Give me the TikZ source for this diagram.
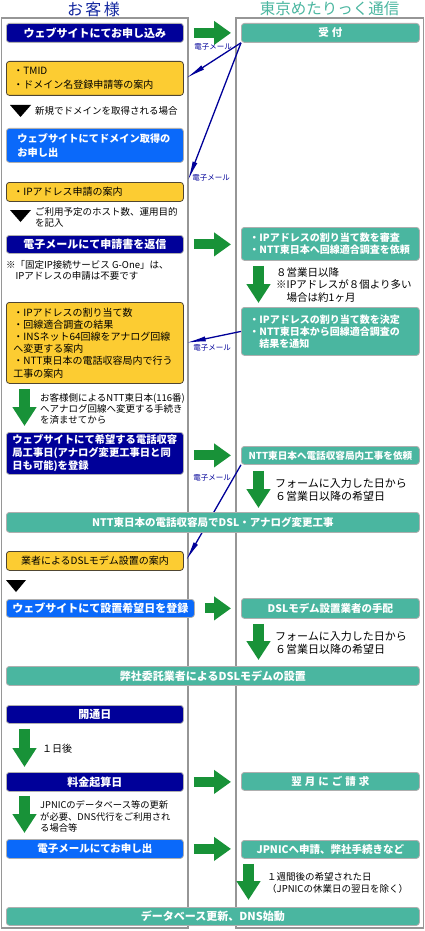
\documentclass[tikz,border=0pt]{standalone}
\usepackage{fontspec}
\setmainfont{Noto Sans CJK JP}
\usetikzlibrary{arrows.meta,calc}
\definecolor{cnavy}{RGB}{0,0,153}
\definecolor{cblue}{RGB}{10,105,250}
\definecolor{cyellow}{RGB}{252,204,50}
\definecolor{cteal}{RGB}{74,182,160}
\definecolor{cgreen}{RGB}{24,146,56}
\definecolor{ctitle}{RGB}{20,40,160}
\definecolor{cpanel}{RGB}{150,150,150}
\definecolor{cbord}{RGB}{175,175,175}
\definecolor{cybord}{RGB}{80,70,50}
\newcommand{\fsz}[2]{\fontsize{#1}{#2}\selectfont}
\begin{document}
\begin{tikzpicture}[x=1pt,y=-1pt,
 box/.style={rounded corners=3pt,draw=cbord,line width=0.8pt,anchor=north west,inner xsep=6pt,inner ysep=1pt,align=center},
 lw/.style={minimum width=177pt},
 rw/.style={minimum width=178pt},
 fw/.style={minimum width=413pt},
 navybox/.style={box,fill=cnavy,text=white},
 bluebox/.style={box,fill=cblue,text=white},
 yelbox/.style={box,fill=cyellow,draw=cybord,text=black},
 tealbox/.style={box,fill=cteal,text=white},
 note/.style={inner sep=0pt,anchor=north west,align=left,text=black},
 hg/.style={draw=cgreen,line width=10pt,-{Triangle[length=17pt,width=23pt]}},
 vg/.style={draw=cgreen,line width=11pt,-{Triangle[length=19pt,width=23pt]}},
 mail/.style={draw=cnavy,line width=1.3pt,-{Latex[length=20pt,width=5pt]}},
 maillbl/.style={text=cnavy,font=\fsz{7.5}{8},inner sep=0pt},
]
\useasboundingbox (0,0) rectangle (424,931);
\fill[white] (0,0) rectangle (424,931);

% titles
\node[text=ctitle,font=\fsz{16}{16},inner sep=0pt] (T1) at (93.5,9) {お\hspace{2.5pt}客\hspace{2.5pt}様};
\node[text=cteal,font=\fsz{15.5}{16},inner sep=0pt] (T2) at (329.5,9) {東京めたりっく通信};

% panels
\draw[cpanel,line width=1.5pt] (1.5,18) rectangle (188,928);
\draw[cpanel,line width=1.5pt] (236,18) rectangle (423.5,928);

% left column
\node[navybox,lw,minimum height=19pt,font=\fsz{11}{13}\bfseries] (L1) at (6,23) {ウェブサイトにてお申し込み};
\node[yelbox,lw,minimum height=34pt,inner xsep=7pt,text width=163pt,align=left,font=\fsz{10}{14}] (L2) at (6,61) {・TMID\\・ドメイン名登録申請等の案内};
\fill (10,105) -- (31,105) -- (20.5,117) -- cycle;
\node[note,anchor=west,font=\fsz{9.5}{11}] (A1) at (35,111) {新規でドメインを取得される場合};
\node[bluebox,lw,minimum height=34pt,inner xsep=11pt,text width=155pt,align=left,font=\fsz{10.2}{14}\bfseries] (L3) at (6,128) {ウェブサイトにてドメイン取得の\\お申し出};
\node[yelbox,lw,minimum height=19pt,inner xsep=7pt,text width=163pt,align=left,font=\fsz{10}{12}] (L4) at (6,182) {・IPアドレス申請の案内};
\fill (10,210) -- (31,210) -- (20.5,222) -- cycle;
\node[note,font=\fsz{9.5}{11}] (A2) at (35,207.5) {ご利用予定のホスト数、運用目的\\を記入};
\node[navybox,lw,minimum height=18pt,font=\fsz{11}{13}\bfseries] (L5) at (6,235) {電子メールにて申請書を返信};
\node[note,font=\fsz{9.5}{11}] (A3) at (6,260.7) {※「固定IP接続サービス G-One」は、\\\hspace*{9.5pt}IPアドレスの申請は不要です};
\node[yelbox,lw,minimum height=81pt,inner xsep=7pt,text width=163pt,align=left,font=\fsz{10}{12.2}] (L6) at (6,302) {・IPアドレスの割り当て数\\・回線適合調査の結果\\・INSネット64回線をアナログ回線\\へ変更する案内\\・NTT東日本の電話収容局内で行う\\工事の案内};
\node[note,font=\fsz{9.5}{11}] (A4) at (40,393.7) {お客様側によるNTT東日本(116番)\\へアナログ回線へ変更する手続き\\を済ませてから};
\node[navybox,lw,minimum height=42pt,inner xsep=6pt,text width=165pt,align=left,font=\fsz{10.3}{13}\bfseries] (L7) at (6,432) {ウェブサイトにて希望する電話収容\\局工事日(アナログ変更工事日と同\\日も可能)を登録};
\node[yelbox,lw,minimum height=19pt,font=\fsz{10}{12}] (L9) at (6,551) {業者によるDSLモデム設置の案内};
\fill (6,580) -- (26,580) -- (16,592) -- cycle;
\node[bluebox,lw,minimum height=18pt,font=\fsz{11}{13}\bfseries] (L10) at (6,599) {ウェブサイトにて設置希望日を登録};
\node[tealbox,fw,minimum height=19pt,font=\fsz{11}{13}\bfseries] (L11) at (6,666) {弊社委託業者によるDSLモデムの設置};
\node[navybox,lw,minimum height=18pt,font=\fsz{11}{13}\bfseries] (L12) at (6,705) {開通日};
\node[note,anchor=west,font=\fsz{10}{12}] (A5) at (42,749) {１日後};
\node[navybox,lw,minimum height=19pt,font=\fsz{11}{13}\bfseries] (L13) at (6,772) {料金起算日};
\node[note,font=\fsz{9.3}{11.5}] (A6) at (40,800.7) {JPNICのデータベース等の更新\\が必要、DNS代行をご利用され\\る場合等};
\node[bluebox,lw,minimum height=19pt,font=\fsz{10.5}{12}\bfseries] (L14) at (6,839) {電子メールにてお申し出};
\node[tealbox,fw,minimum height=18pt,font=\fsz{11}{13}\bfseries] (L15) at (6,907) {データベース更新、DNS始動};

% right column
\node[tealbox,rw,minimum height=19pt,font=\fsz{10.5}{12}\bfseries] (R1) at (241,23) {受\hspace{3pt}付};
\node[tealbox,rw,minimum height=33pt,inner xsep=8pt,text width=162pt,align=left,font=\fsz{10}{12}\bfseries] (R2) at (241,227) {・IPアドレスの割り当て数を審査\\・NTT東日本へ回線適合調査を依頼};
\node[note,font=\fsz{10.5}{12.5}] (B1) at (276,267.3) {８営業日以降\\※IPアドレスが８個より多い\\\hspace*{10.5pt}場合は約1ヶ月};
\node[tealbox,rw,minimum height=48pt,inner xsep=8pt,text width=162pt,align=left,font=\fsz{10}{12}\bfseries] (R3) at (241,307) {・IPアドレスの割り当て数を決定\\・NTT東日本から回線適合調査の\\\hspace*{10pt}結果を通知};
\node[tealbox,rw,minimum height=18pt,inner xsep=2pt,font=\fsz{9.6}{12}\bfseries] (R4) at (241,446) {NTT東日本へ電話収容局内工事を依頼};
\node[note,font=\fsz{11}{13}] (B2) at (275,478.5) {フォームに入力した日から\\６営業日以降の希望日};
\node[tealbox,rw,minimum height=20pt,font=\fsz{10.5}{12}\bfseries] (R5) at (241,598) {DSLモデム設置業者の手配};
\node[note,font=\fsz{11}{13}] (B3) at (275,631) {フォームに入力した日から\\６営業日以降の希望日};
\node[tealbox,rw,minimum height=18pt,font=\fsz{10.5}{12}\bfseries] (R6) at (241,772) {翌\hspace{3pt}月\hspace{3pt}に\hspace{3pt}ご\hspace{3pt}請\hspace{3pt}求};
\node[tealbox,rw,minimum height=18pt,font=\fsz{10.5}{12}\bfseries] (R7) at (241,840) {JPNICへ申請、弊社手続きなど};
\node[note,font=\fsz{9.5}{12}] (B4) at (267,872.7) {１週間後の希望された日\\（JPNICの休業日の翌日を除く）};

% e-mail connectors (behind the full-width bar)
\draw[mail] (R1.south west) -- ($(L2.east)+(2,0)$);
\draw[mail] (R1.south west) -- ($(L4.north east)+(4,-1)$);
\draw[mail] (R3.west) -- ($(L6.east)+(2,0)$);
\draw[mail] (R4.south west) -- ($(L9.east)+(2,0)$);
\node[maillbl] (M1) at (213,47) {電子メール};
\node[maillbl] (M2) at (211,178) {電子メール};
\node[maillbl] (M3) at (212,348) {電子メール};
\node[maillbl] (M4) at (212,478) {電子メール};

\node[tealbox,fw,minimum height=20pt,font=\fsz{10.5}{12}\bfseries] (L8) at (6,512) {NTT東日本の電話収容局でDSL・アナログ変更工事};

% green horizontal arrows
\draw[hg] ($(L1.east)+(10,0)$) -- ($(L1.east -| R1.west)+(-10,0)$);
\draw[hg] ($(L5.east)+(10,0)$) -- ($(L5.east -| R2.west)+(-10,0)$);
\draw[hg] ($(L7.east)+(10,2)$) -- ($(L7.east -| R4.west)+(-10,2)$);
\draw[hg] ($(L10.east)+(10,0)$) -- ($(L10.east -| R5.west)+(-10,0)$);
\draw[hg] ($(L13.east)+(10,0)$) -- ($(L13.east -| R6.west)+(-10,0)$);
\draw[hg] ($(L14.east)+(10,0)$) -- ($(L14.east -| R7.west)+(-10,0)$);

% green vertical arrows
\draw[vg] ($(L6.south west)+(18.5,5)$) -- ($(L7.north west)+(18.5,-6)$);
\draw[vg] ($(L12.south west)+(18.5,5)$) -- ($(L13.north west)+(18.5,-5)$);
\draw[vg] ($(L13.south west)+(18.5,4)$) -- ($(L14.north west)+(18.5,-6)$);
\draw[vg] ($(R2.south west)+(17.5,5)$) -- ($(R3.north west)+(17.5,-4)$);
\draw[vg] ($(R4.south west)+(17.5,6)$) -- ($(R4.south west |- L8.north)+(17.5,-4)$);
\draw[vg] ($(R5.south west)+(17.5,5)$) -- ($(R5.south west |- L11.north)+(17.5,-6)$);
\draw[vg] ($(R7.south west)+(7.5,5)$) -- ($(R7.south west |- L15.north)+(7.5,-7)$);
\end{tikzpicture}
\end{document}
